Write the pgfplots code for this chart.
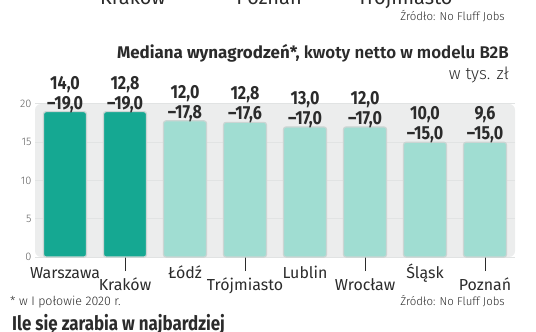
\documentclass[border=0pt]{standalone}
\usepackage{fontspec}
\setmainfont{Fira Sans}
\newfontfamily\lightfont{Fira Sans Light}
\newfontfamily\numfont{Fira Sans}[FakeStretch=0.85]
\usepackage{pgfplots}
\pgfplotsset{compat=1.18}
\usepackage{pgfplotstable}
\definecolor{dark}{HTML}{15A892}
\definecolor{light}{HTML}{A0DDD2}
\definecolor{txt}{HTML}{2B2B2B}
\definecolor{bg}{HTML}{ECEDED}
\definecolor{gridc}{HTML}{E1E3E3}
\definecolor{edge}{HTML}{CBD5D3}

\pgfplotstableread{
x y lo
0 19.0 14,0
1 19.0 12,8
}\darktab
\pgfplotstableread{
x y lo
2 17.8 12,0
3 17.6 12,8
4 17.0 13,0
5 17.0 12,0
6 15.0 10,0
7 15.0 9,6
}\lighttab

\begin{document}
\begin{tikzpicture}
\useasboundingbox (0bp,0bp) rectangle (536bp,332bp);
\clip (0bp,0bp) rectangle (536bp,332bp);
% cut-off text from the chart above
\node[font=\fontsize{20}{24}\selectfont, text=txt, anchor=base] at (133bp,327bp) {Kraków};
\node[font=\fontsize{20}{24}\selectfont, text=txt, anchor=base] at (269bp,327bp) {Poznań};
\node[font=\fontsize{20}{24}\selectfont, text=txt, anchor=base] at (405bp,327bp) {Trójmiasto};
\node[font=\fontsize{11.5}{13}\selectfont\lightfont, text=txt, anchor=base east, inner sep=0] at (505bp,311bp) {Źródło: No Fluff Jobs};
% title
\node[font=\fontsize{17}{20}\selectfont, text=txt, anchor=base east, inner sep=0] at (509bp,273bp) {\bfseries Mediana wynagrodzeń*, \lightfont kwoty netto w modelu B2B};
\node[font=\fontsize{17}{20}\selectfont\lightfont, text=txt, anchor=base east, inner sep=0] at (509bp,252bp) {w tys. zł};
% footer
\node[font=\fontsize{12.5}{14}\selectfont\lightfont, text=txt, anchor=base west, inner sep=0] at (10bp,27bp) {* w I połowie 2020 r.};
\node[font=\fontsize{11.5}{13}\selectfont\lightfont, text=txt, anchor=base east, inner sep=0] at (505bp,27bp) {Źródło: No Fluff Jobs};
\node[font=\fontsize{20}{22}\selectfont\numfont\bfseries, text=txt, anchor=base west, inner sep=0] at (12bp,2bp) {Ile się zarabia w najbardziej};

\begin{axis}[
  at={(35bp,75bp)}, anchor=south west,
  scale only axis, width=480bp, height=153bp,
  xmin=-0.5, xmax=7.5, ymin=0, ymax=20,
  axis line style={draw=none},
  axis background/.style={fill=bg, rounded corners=6bp},
  ytick={0,5,10,15,20},
  ymajorgrids, grid style={gridc, line width=1bp},
  major tick length=0pt,
  tick pos=left,
  /pgf/number format/assume math mode=true,
  yticklabel style={font=\fontsize{11}{12}\selectfont\lightfont, text=txt!75},
  xtick={0,2,4,6},
  xticklabels={Warszawa,Łódź,Lublin,Śląsk},
  xticklabel style={font=\fontsize{16}{18}\selectfont, text=txt, anchor=base, yshift=-21.5bp},
  extra x ticks={1,3,5,7},
  extra x tick labels={Kraków,Trójmiasto,Wrocław,Poznań},
  extra x tick style={tick align=outside, major tick length=14bp,
    major tick style={draw=txt, line width=0.6bp},
    xticklabel style={yshift=2.5bp}},
  ybar, bar width=43bp, bar shift=0pt,
  clip=false,
  point meta=explicit symbolic,
  visualization depends on={y\as\yval},
  nodes near coords={\pgfplotspointmeta\\–\pgfmathprintnumber[fixed,fixed zerofill,precision=1,use comma]{\yval}},
  every node near coord/.append style={font=\fontsize{19}{20}\selectfont\numfont\bfseries, text=txt, align=center, anchor=south, inner sep=0pt, yshift=-1.5bp},
]
\addplot[fill=dark, draw=edge, line width=1.2bp, rounded corners=2.5bp] table[x=x,y=y,meta=lo] {\darktab};
\addplot[fill=light, draw=edge, line width=1.2bp, rounded corners=2.5bp] table[x=x,y=y,meta=lo] {\lighttab};
\end{axis}
\end{tikzpicture}
\end{document}
